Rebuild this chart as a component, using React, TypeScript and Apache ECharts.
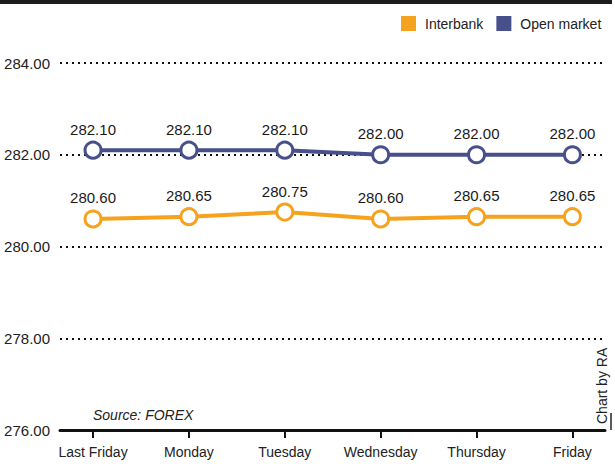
import React, { useEffect, useRef } from "react";
import * as echarts from "echarts";

const categories = ["Last Friday", "Monday", "Tuesday", "Wednesday", "Thursday", "Friday"];
const interbank = [280.6, 280.65, 280.75, 280.6, 280.65, 280.65];
const openMarket = [282.1, 282.1, 282.1, 282.0, 282.0, 282.0];
const yTicks = [276, 278, 280, 282, 284];

const ORANGE = "#F5A31F";
const BLUE = "#47508B";
const FONT = "'Liberation Sans', Arial, sans-serif";

export default function App() {
  const ref = useRef<HTMLDivElement>(null);
  useEffect(() => {
    if (!ref.current) return;
    const chart = echarts.init(ref.current, undefined, { renderer: "svg" });
    const idx = categories.map((_, i) => i);
    const mk = (name: string, vals: number[], color: string) => ({
      name,
      type: "line",
      data: vals.map((v, i) => [i, v]),
      symbol: "circle",
      symbolSize: 16,
      lineStyle: { color, width: 4 },
      itemStyle: { color: "#fff", borderColor: color, borderWidth: 3 },
      label: {
        show: true,
        position: "top",
        distance: 4,
        fontFamily: FONT,
        fontSize: 15,
        color: "#1a1a1a",
        formatter: (p: any) => p.value[1].toFixed(2),
      },
      z: 3,
    });
    chart.setOption({
      animation: false,
      backgroundColor: "#fff",
      textStyle: { fontFamily: FONT },
      legend: {
        left: 396,
        top: 11,
        itemWidth: 15,
        itemHeight: 15,
        itemGap: 13,
        icon: "rect",
        textStyle: { fontFamily: FONT, fontSize: 14, color: "#222", padding: [0, 0, 0, 4] },
        data: [
          { name: "Interbank", itemStyle: { color: ORANGE, borderWidth: 0 } },
          { name: "Open market", itemStyle: { color: BLUE, borderWidth: 0 } },
        ],
      },
      grid: { left: 60, right: 10, top: 63, bottom: 34, containLabel: false },
      xAxis: {
        type: "value",
        min: -0.3445,
        max: 5.34,
        splitLine: { show: false },
        axisLine: { show: true, onZero: false, lineStyle: { color: "#111", width: 3 } },
        axisTick: { show: true, customValues: idx, length: 8, lineStyle: { color: "#111", width: 2 } },
        axisLabel: {
          customValues: idx,
          formatter: (v: number) => categories[Math.round(v)] ?? "",
          fontFamily: FONT,
          fontSize: 14,
          color: "#222",
          margin: 15,
        },
      },
      yAxis: {
        type: "value",
        min: 276,
        max: 284,
        interval: 2,
        axisLine: { show: false },
        axisTick: { show: false },
        axisLabel: {
          fontFamily: FONT,
          fontSize: 15,
          color: "#222",
          margin: 10,
          formatter: (v: number) => (yTicks.includes(v) ? v.toFixed(2) : ""),
        },
        splitLine: { show: true, showMinLine: false, lineStyle: { color: "#111", width: 2, type: [2, 4] } },
      },
      graphic: [
        { type: "rect", left: 0, top: 0, shape: { width: 612, height: 4 }, style: { fill: "#1c1c1c" } },
        {
          type: "text",
          left: 93,
          top: 408,
          style: { text: "Source: FOREX", font: `italic 14px ${FONT}`, fill: "#222" },
        },
        {
          type: "text",
          x: 595,
          y: 424,
          rotation: Math.PI / 2,
          style: { text: "Chart by RA", font: `14px ${FONT}`, fill: "#222", textAlign: "left", textVerticalAlign: "top" },
        },
        { type: "line", shape: { x1: 611, y1: 413, x2: 611, y2: 430 }, style: { stroke: "#222", lineWidth: 1.5 } },
      ],
      series: [mk("Interbank", interbank, ORANGE), mk("Open market", openMarket, BLUE)],
    });
    return () => chart.dispose();
  }, []);
  return <div ref={ref} style={{ width: 615, height: 464, position: "absolute", left: 0, top: 0 }} />;
}
